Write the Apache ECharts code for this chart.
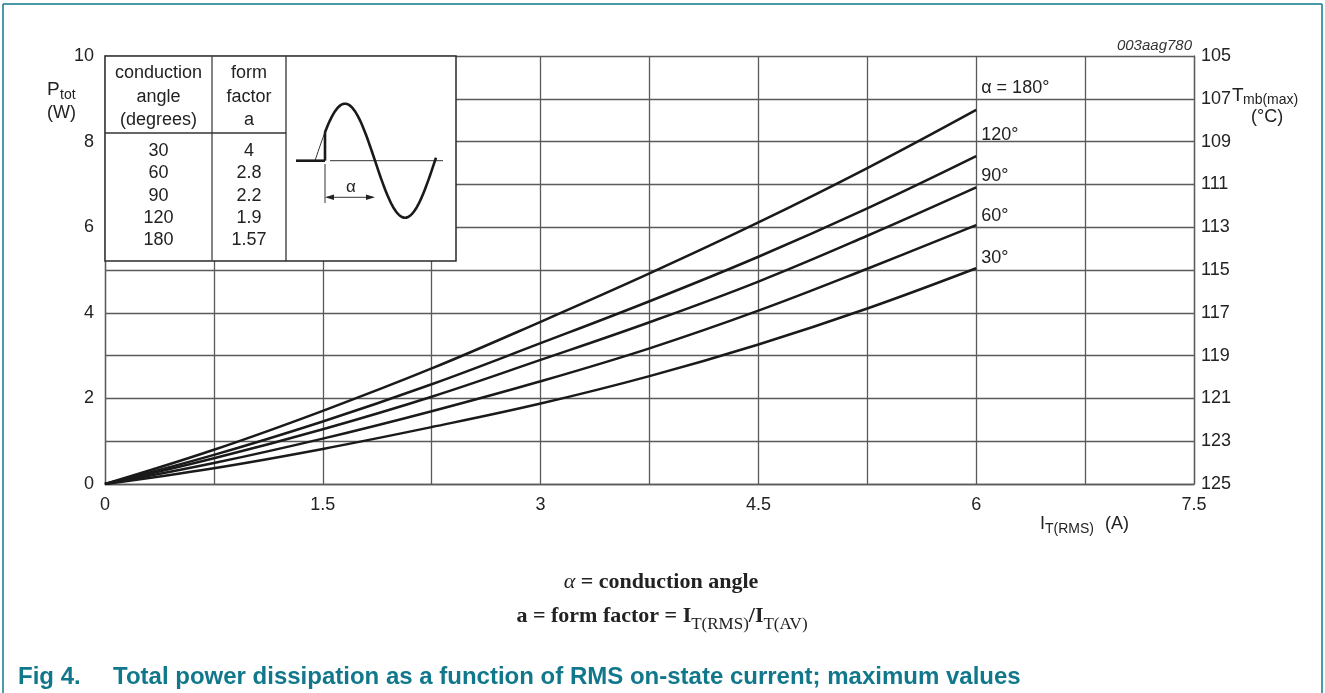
<!DOCTYPE html>
<html>
<head>
<meta charset="utf-8">
<script src="https://cdn.jsdelivr.net/npm/echarts@6/dist/echarts.min.js"></script>
<style>
html,body{margin:0;padding:0;background:#fff;}
#chart{width:1325px;height:693px;}
</style>
</head>
<body>
<div id="chart"></div>
<script>
// ---- data ----
const currentRMS = [0, 0.75, 1.5, 2.25, 3, 3.75, 4.5, 5.25, 6];
const power180 = [0, 0.80, 1.71, 2.70, 3.79, 4.92, 6.11, 7.38, 8.74];
const power120 = [0, 0.68, 1.46, 2.33, 3.29, 4.27, 5.31, 6.44, 7.66];
const power90  = [0, 0.60, 1.28, 2.04, 2.90, 3.78, 4.73, 5.80, 6.93];
const power60  = [0, 0.49, 1.06, 1.70, 2.40, 3.17, 4.05, 5.03, 6.05];
const power30  = [0, 0.37, 0.82, 1.33, 1.88, 2.52, 3.26, 4.10, 5.04];
const curveNames = ['α = 180°', '120°', '90°', '60°', '30°'];
const conductionAngles = ['30', '60', '90', '120', '180'];
const formFactors = ['4', '2.8', '2.2', '1.9', '1.57'];
const xTickLabels = ['0', '1.5', '3', '4.5', '6', '7.5'];

const FONT = '"Liberation Sans", Arial, Helvetica, sans-serif';
const SERIF = '"Liberation Serif", "Times New Roman", serif';
const TEXT = '#222';
const GRID = '#5a5a5a';
const TEAL = '#11788c';

const chart = echarts.init(document.getElementById('chart'), null, {renderer: 'canvas'});

function pairs(ys) { return currentRMS.map((x, i) => [x, ys[i]]); }
const allSeries = [power180, power120, power90, power60, power30];
const labelOffsets = [[0, -22], [0, -21], [0, -11], [0, -9], [0, -10]];

function txt(x, y, text, opt) {
  return {
    type: 'text', x: x, y: y, z: 20,
    style: Object.assign({
      text: text, fill: TEXT, fontSize: 18, fontFamily: FONT,
      align: 'left', verticalAlign: 'middle', textAlign: 'left', textVerticalAlign: 'middle'
    }, opt || {})
  };
}
function ln(x1, y1, x2, y2, w, c, z) {
  return {type: 'line', z: z || 15, shape: {x1: x1, y1: y1, x2: x2, y2: y2},
          style: {stroke: c || '#1a1a1a', lineWidth: w || 1}};
}

// ---- graphic decorations ----
const g = [];
// frame
g.push(ln(3, 4, 1322, 4, 1.5, TEAL, 5));
g.push(ln(3, 4, 3, 693, 1.5, TEAL, 5));
g.push(ln(1322, 4, 1322, 693, 1.5, TEAL, 5));

// table
g.push({type: 'rect', z: 12, shape: {x: 105, y: 56, width: 351, height: 205},
        style: {fill: '#fff', stroke: '#2a2a2a', lineWidth: 1.5}});
g.push(ln(212, 56, 212, 261, 1.3, '#444', 14));
g.push(ln(286, 56, 286, 261, 1.3, '#333', 14));
g.push(ln(105, 133, 286, 133, 1.3, '#333', 14));
['conduction', 'angle', '(degrees)'].forEach((t, i) => g.push(txt(158.5, 73.5 + i * 23.5, t, {align: 'center', textAlign: 'center'})));
['form', 'factor', 'a'].forEach((t, i) => g.push(txt(249, 73.5 + i * 23.5, t, {align: 'center', textAlign: 'center'})));
conductionAngles.forEach((t, i) => g.push(txt(158.5, 151 + i * 22.3, t, {align: 'center', textAlign: 'center'})));
formFactors.forEach((t, i) => g.push(txt(249, 151 + i * 22.3, t, {align: 'center', textAlign: 'center'})));

// waveform illustration
const w0 = 315, per = 120, amp = 57, base = 160.7;
function wave(xa, xb) {
  const pts = [];
  for (let x = xa; x <= xb + 0.01; x += 1) pts.push([x, base - amp * Math.sin((x - w0) / per * 2 * Math.PI)]);
  return pts;
}
g.push(ln(330, base, 443, base, 1, '#333', 14));
g.push({type: 'polyline', z: 15, shape: {points: wave(315, 325)}, style: {stroke: '#333', lineWidth: 1, fill: null}});
g.push({type: 'polyline', z: 16, shape: {points: wave(325, 436)}, style: {stroke: '#1a1a1a', lineWidth: 2.6, fill: null}});
g.push(ln(296, base, 325, base, 2.6, '#1a1a1a', 16));
g.push(ln(325, base, 325, base - amp * 0.5, 2.6, '#1a1a1a', 16));
g.push(ln(325, 164, 325, 203, 1, '#333', 14));
g.push(ln(327, 197.3, 373, 197.3, 1, '#333', 14));
g.push({type: 'polygon', z: 15, shape: {points: [[325, 197.3], [334, 194.5], [334, 200.1]]}, style: {fill: '#222'}});
g.push({type: 'polygon', z: 15, shape: {points: [[375, 197.3], [366, 194.5], [366, 200.1]]}, style: {fill: '#222'}});
g.push(txt(351, 187, 'α', {align: 'center', textAlign: 'center', fontSize: 17}));

// axis titles
g.push(txt(47, 90, 'P', {fontSize: 19}));
g.push(txt(60, 95, 'tot', {fontSize: 14}));
g.push(txt(47, 113, '(W)', {fontSize: 18}));
g.push(txt(1232, 96, 'T', {fontSize: 19}));
g.push(txt(1243, 100, 'mb(max)', {fontSize: 14}));
g.push(txt(1251, 117, '(°C)', {fontSize: 18}));
g.push(txt(1040, 524, 'I', {fontSize: 18}));
g.push(txt(1045, 529, 'T(RMS)', {fontSize: 14}));
g.push(txt(1105, 524, '(A)', {fontSize: 18}));
g.push(txt(1192, 46, '003aag780', {fontSize: 15, fontStyle: 'italic', align: 'right', textAlign: 'right', fill: '#333'}));

// formulas
g.push({type: 'text', z: 20, x: 661, y: 582, style: {
  text: '{i|α}{m| = conduction angle}',
  align: 'center', verticalAlign: 'middle', textAlign: 'center', textVerticalAlign: 'middle',
  rich: {
    i: {fontFamily: SERIF, fontStyle: 'italic', fontSize: 22, fill: TEXT},
    m: {fontFamily: SERIF, fontWeight: 'bold', fontSize: 22, fill: TEXT}
  }
}});
g.push({type: 'text', z: 20, x: 662, y: 614, style: {
  text: '{m|a = form factor = I}{s|T(RMS)}{m|/I}{s|T(AV)}',
  align: 'center', verticalAlign: 'middle', textAlign: 'center', textVerticalAlign: 'middle',
  rich: {
    m: {fontFamily: SERIF, fontWeight: 'bold', fontSize: 22, fill: TEXT, verticalAlign: 'bottom', lineHeight: 26},
    s: {fontFamily: SERIF, fontSize: 17, fill: TEXT, verticalAlign: 'bottom', lineHeight: 26, padding: [0, 0, -6, 0]}
  }
}});

// caption
g.push(txt(18, 677, 'Fig 4.', {fontSize: 24, fontWeight: 'bold', fill: TEAL}));
g.push(txt(113, 677, 'Total power dissipation as a function of RMS on-state current; maximum values',
  {fontSize: 24, fontWeight: 'bold', fill: TEAL}));

const option = {
  backgroundColor: '#fff',
  animation: false,
  grid: {left: 105, right: 131, top: 56, bottom: 209, containLabel: false},
  xAxis: {
    type: 'value', min: 0, max: 7.5, interval: 0.75,
    axisLine: {show: true, lineStyle: {color: GRID, width: 1.3}},
    axisTick: {show: false},
    splitLine: {show: true, lineStyle: {color: GRID, width: 1.3}},
    axisLabel: {
      margin: 12, color: TEXT, fontSize: 18, fontFamily: FONT,
      formatter: function (v) {
        const k = v / 1.5;
        if (Math.abs(k - Math.round(k)) > 1e-6) return '';
        return xTickLabels[Math.round(k)] || '';
      }
    }
  },
  yAxis: [{
    type: 'value', min: 0, max: 10, interval: 1, position: 'left',
    axisLine: {show: true, lineStyle: {color: GRID, width: 1.3}},
    axisTick: {show: false},
    splitLine: {show: true, lineStyle: {color: GRID, width: 1.3}},
    axisLabel: {
      margin: 11, color: TEXT, fontSize: 18, fontFamily: FONT,
      formatter: function (v) { return (Math.round(v) % 2 === 0) ? String(v) : ''; }
    }
  }, {
    type: 'value', min: 105, max: 125, interval: 2, inverse: true, position: 'right',
    axisLine: {show: true, lineStyle: {color: GRID, width: 1.3}},
    axisTick: {show: false},
    splitLine: {show: false},
    axisLabel: {margin: 7, color: TEXT, fontSize: 18, fontFamily: FONT}
  }],
  series: allSeries.map((ys, i) => ({
    type: 'line', name: curveNames[i], yAxisIndex: 0,
    data: pairs(ys), smooth: 0.4, symbol: 'none', z: 5,
    lineStyle: {color: '#1a1a1a', width: 2.5},
    endLabel: {
      show: true, formatter: curveNames[i], distance: 5, offset: labelOffsets[i],
      color: TEXT, fontSize: 18, fontFamily: FONT
    }
  })),
  graphic: {elements: g}
};
chart.setOption(option);
</script>
</body>
</html>
